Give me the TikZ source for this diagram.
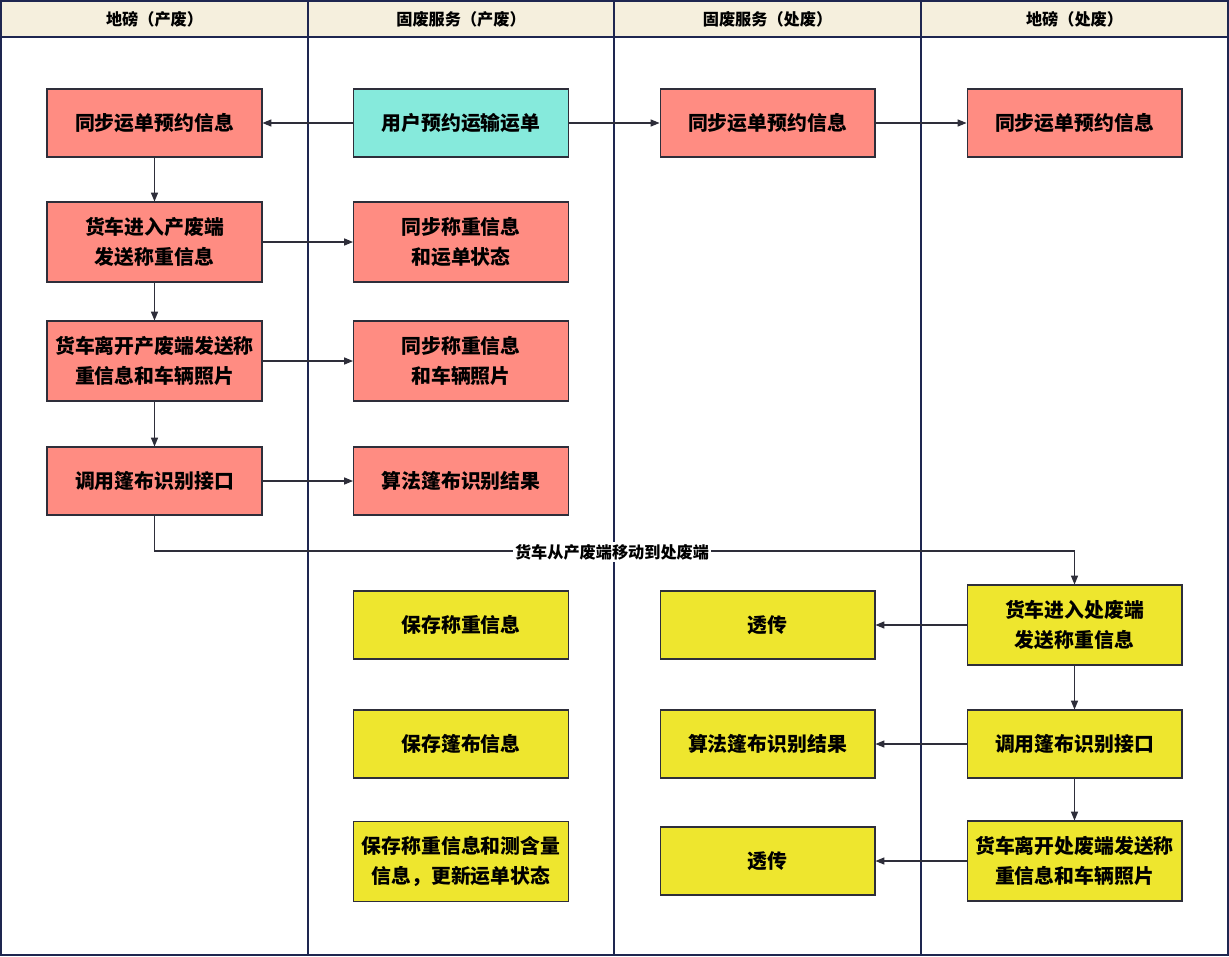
\documentclass[tikz,border=0pt]{standalone}
\usepackage{fontspec}
\newfontfamily\cjk{Noto Sans CJK SC}
\usetikzlibrary{arrows.meta}
\definecolor{pinkfill}{HTML}{FF8C82}
\definecolor{tealfill}{HTML}{86EADC}
\definecolor{yellowfill}{HTML}{EEE62E}
\definecolor{headfill}{HTML}{F5EFDD}
\definecolor{laneline}{HTML}{1E2650}
\definecolor{boxline}{HTML}{2E2E3A}

\begin{document}
\begin{tikzpicture}[x=0.02cm, y=-0.02cm,
  block/.style={draw=boxline, line width=0.6pt, minimum width=4.3cm, minimum height=1.36cm, align=center, inner sep=1pt,
    font={\cjk\bfseries\fontsize{11.3}{17.5}\selectfont}},
  tall/.style={minimum height=1.6cm},
  pink/.style={block, fill=pinkfill},
  teal/.style={block, fill=tealfill},
  yellow/.style={block, fill=yellowfill},
  head/.style={font={\cjk\bfseries\fontsize{9.2}{11}\selectfont}},
  arrow/.style={-{Triangle[length=5pt, width=4pt]}, line width=0.6pt, draw=boxline}]

  \useasboundingbox (0,0) rectangle (1229,956);

  % Lanes
  \fill[headfill] (1,1) rectangle (1228,37);
  \draw[laneline, line width=0.8pt] (1,1) rectangle (1228,955);
  \draw[laneline, line width=0.8pt] (1,37) -- (1228,37);
  \foreach \x in {308,614,921}
    \draw[laneline, line width=0.8pt] (\x,1) -- (\x,955);

  \node[head] (H1) at (154.5,19) {地磅（产废）};
  \node[head] (H2) at (461,19) {固废服务（产废）};
  \node[head] (H3) at (767.5,19) {固废服务（处废）};
  \node[head] (H4) at (1074.5,19) {地磅（处废）};

  % First column
  \node[pink] (A1) at (154.5,123) {同步运单预约信息};
  \node[pink, tall] (A2) at (154.5,242) {货车进入产废端\\发送称重信息};
  \node[pink, tall] (A3) at (154.5,361) {货车离开产废端发送称\\重信息和车辆照片};
  \node[pink] (A4) at (154.5,481) {调用篷布识别接口};

  % Second column
  \node[teal] (B1) at (461,123) {用户预约运输运单};
  \node[pink, tall] (B2) at (461,242) {同步称重信息\\和运单状态};
  \node[pink, tall] (B3) at (461,361) {同步称重信息\\和车辆照片};
  \node[pink] (B4) at (461,481) {算法篷布识别结果};
  \node[yellow] (B5) at (461,625) {保存称重信息};
  \node[yellow] (B6) at (461,744) {保存篷布信息};
  \node[yellow, tall] (B7) at (461,861.5) {保存称重信息和测含量\\信息，更新运单状态};

  % Third column
  \node[pink] (C1) at (767.5,123) {同步运单预约信息};
  \node[yellow] (C5) at (767.5,625) {透传};
  \node[yellow] (C6) at (767.5,744) {算法篷布识别结果};
  \node[yellow] (C7) at (767.5,861) {透传};

  % Fourth column
  \node[pink] (D1) at (1074.5,123) {同步运单预约信息};
  \node[yellow, tall] (D5) at (1074.5,625) {货车进入处废端\\发送称重信息};
  \node[yellow] (D6) at (1074.5,744) {调用篷布识别接口};
  \node[yellow, tall] (D7) at (1074.5,861) {货车离开处废端发送称\\重信息和车辆照片};

  % Horizontal arrows
  \draw[arrow] (B1.west) -- (A1.east);
  \draw[arrow] (B1.east) -- (C1.west);
  \draw[arrow] (C1.east) -- (D1.west);
  \draw[arrow] (A2.east) -- (B2.west);
  \draw[arrow] (A3.east) -- (B3.west);
  \draw[arrow] (A4.east) -- (B4.west);
  \draw[arrow] (D5.west) -- (C5.east);
  \draw[arrow] (D6.west) -- (C6.east);
  \draw[arrow] (D7.west) -- (C7.east);

  % Vertical arrows
  \draw[arrow] (A1.south) -- (A2.north);
  \draw[arrow] (A2.south) -- (A3.north);
  \draw[arrow] (A3.south) -- (A4.north);
  \draw[arrow] (D5.south) -- (D6.north);
  \draw[arrow] (D6.south) -- (D7.north);

  % Move to the other end
  \coordinate (M) at (612,551);
  \draw[arrow] (A4.south) |- (M) -| (D5.north);
  \node[head, fill=white, inner sep=1pt] (ML) at (612,552) {货车从产废端移动到处废端};

\end{tikzpicture}
\end{document}
